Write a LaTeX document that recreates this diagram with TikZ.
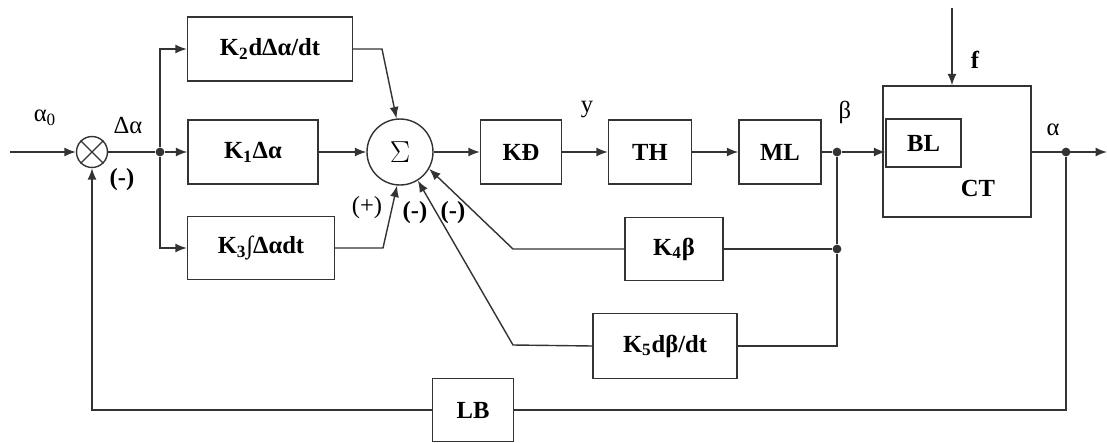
\documentclass[tikz,border=0pt]{standalone}
\usepackage{fontspec}
\setmainfont{Liberation Serif}
\usetikzlibrary{arrows.meta, positioning}

\begin{document}
\begin{tikzpicture}[
  x=0.02cm, y=-0.02cm,
  line width=0.8pt, draw=black!80,
  blk/.style={
    rectangle, draw, fill=white,
    minimum height=1.28cm, inner sep=2pt,
    font=\bfseries\fontsize{14}{16}\selectfont
  },
  lbl/.style={font=\fontsize{14}{16}\selectfont, inner sep=1pt},
  sign/.style={font=\bfseries\fontsize{14}{16}\selectfont, inner sep=1pt},
  conn/.style={draw, -{Latex[length=2.3mm, width=1.8mm]}},
  wire/.style={draw},
  dot/.style={circle, fill=black!80, inner sep=0pt, minimum size=5pt}
]
  \useasboundingbox (0,0) rectangle (1107,443);

  % summing junctions
  \node [circle, draw, minimum size=0.62cm, inner sep=0pt] (sj) at (92,152) {};
  \draw (sj.45) -- (sj.225) (sj.135) -- (sj.315);
  \node [circle, draw, minimum size=1.32cm, inner sep=0pt,
         font=\fontsize{18}{20}\selectfont] (sigma) at (400,152) {$\Sigma$};

  % controller blocks
  \node [blk, minimum width=3.3cm] (kdiff) at (270,49) {K\textsubscript{2}dΔα/dt};
  \node [blk, minimum width=2.6cm] (kprop) at (253,152) {K\textsubscript{1}Δα};
  \node [blk, minimum width=2.94cm, minimum height=1.26cm] (kint) at (261,248) {K\textsubscript{3}∫Δαdt};

  % forward path
  \node [blk, minimum width=1.62cm] (kd) at (521,152) {KĐ};
  \node [blk, minimum width=1.66cm] (th) at (650,152) {TH};
  \node [blk, minimum width=1.64cm] (ml) at (780,152) {ML};
  \node [rectangle, draw, minimum width=2.96cm, minimum height=2.62cm] (ct) at (957,151.5) {};
  \node [blk, minimum width=1.5cm, minimum height=0.96cm] (bl) at (923.5,143) {BL};
  \node [sign] (ctlabel) at (978,188) {CT};

  % feedback blocks
  \node [blk, minimum width=1.96cm, minimum height=1.26cm] (kbeta) at (674,249) {K\textsubscript{4}β};
  \node [blk, minimum width=2.88cm, minimum height=1.3cm] (kdbeta) at (665,346) {K\textsubscript{5}dβ/dt};
  \node [blk, minimum width=1.62cm, minimum height=1.26cm] (lb) at (473,410) {LB};

  % junctions and free ends
  \coordinate (in) at (10,152);
  \coordinate (out) at (1107,152);
  \coordinate (fin) at (952,8);
  \node [dot] (br) at (160,152) {};
  \node [dot] (bj) at (837,152) {};
  \node [dot] (bk) at (837,249) {};
  \node [dot] (aj) at (1066,152) {};

  % labels
  \node [lbl] at (45,118) {α\textsubscript{0}};
  \node [lbl] at (128,125) {Δα};
  \node [sign] at (122,180) {(-)};
  \node [lbl] at (367,208) {(+)};
  \node [sign] at (415,213) {(-)};
  \node [sign] at (453,213) {(-)};
  \node [lbl] at (587,110) {y};
  \node [lbl] at (845,112) {β};
  \node [sign] at (975,60) {f};
  \node [lbl] at (1053,130) {α};

  % connectors
  \path [conn] (in) -- (sj);
  \path [wire] (sj) -- (br);
  \path [conn] (br) -- (kprop);
  \path [conn] (br) |- (kdiff);
  \path [conn] (br) |- (kint);
  \path [conn] (kdiff.east) -- (382,49) -- (sigma.96);
  \path [conn] (kprop) -- (sigma);
  \path [conn] (kint.east) -- (383,248) -- (sigma.265);
  \path [conn] (kbeta.west) -- (513,249) -- (sigma.-30);
  \path [conn] (kdbeta.west) -- (513,345) -- (sigma.-58);
  \path [conn] (sigma) -- (kd);
  \path [conn] (kd) -- (th);
  \path [conn] (th) -- (ml);
  \path [wire] (ml) -- (bj);
  \path [conn] (bj) -- (bl.west |- bj);
  \path [wire] (bj) -- (bk) -- (kbeta);
  \path [wire] (bk) |- (kdbeta);
  \path [conn] (fin) -- (fin |- ct.north);
  \path [conn] (ct.east |- out) -- (out);
  \path [wire] (aj) |- (lb);
  \path [conn] (lb) -| (sj);

\end{tikzpicture}
\end{document}
